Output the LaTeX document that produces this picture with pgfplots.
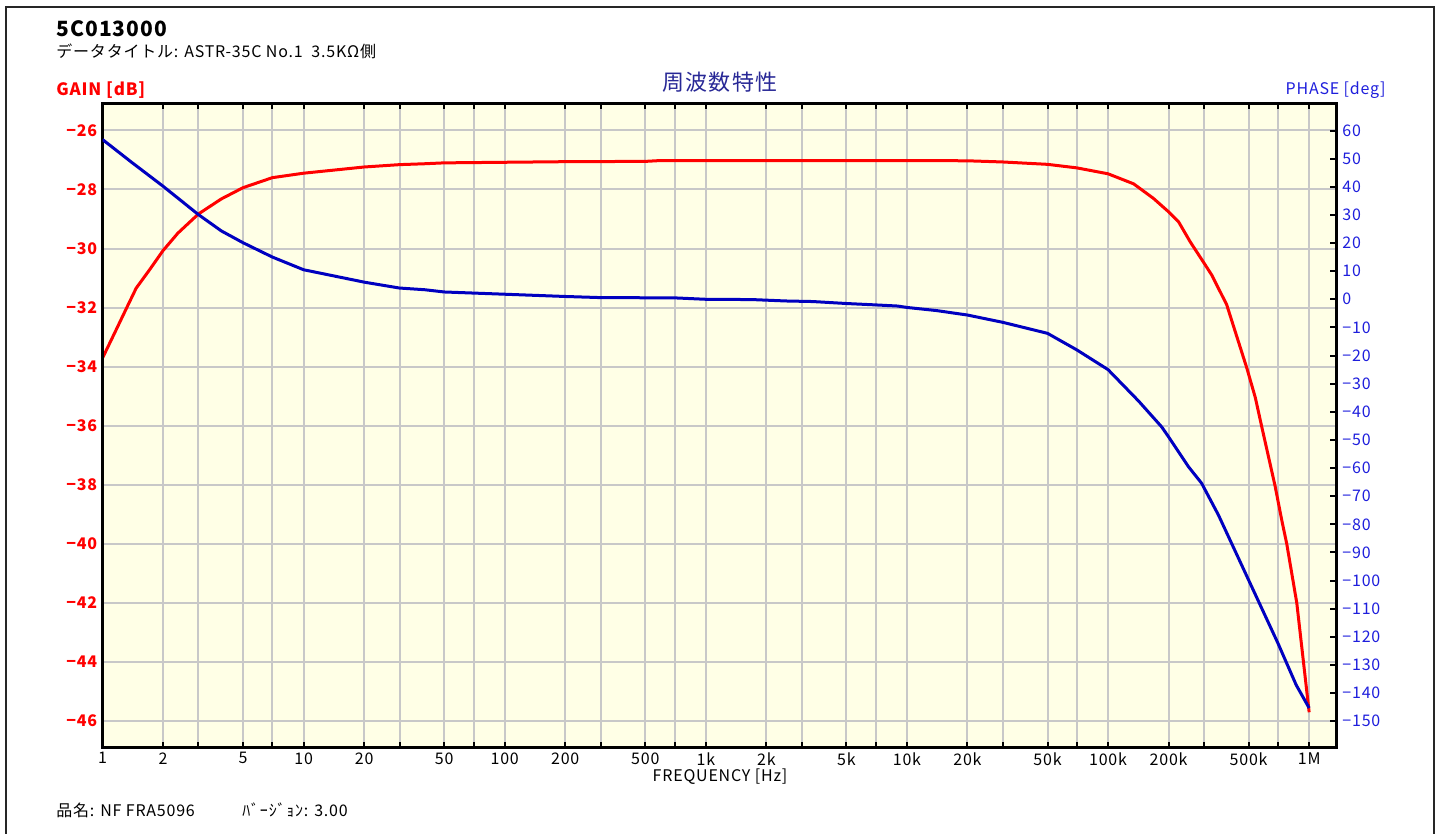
\documentclass[border=0pt]{standalone}
\usepackage{pgfplots}
\pgfplotsset{compat=1.18}
\usepackage{fontspec}
\setmainfont{Noto Sans CJK JP}[LetterSpace=5]

\definecolor{gainred}{RGB}{255,0,0}
\definecolor{phaseblue}{RGB}{0,0,192}
\definecolor{labelblue}{RGB}{30,30,220}
\definecolor{titleblue}{RGB}{40,40,150}
\definecolor{bgyellow}{RGB}{255,255,230}
\definecolor{gridgray}{RGB}{200,200,200}

\newcommand{\ticksize}{\fontsize{8}{9}\selectfont}

\begin{document}
\begin{tikzpicture}
% gain axis (left), carries the grid and the frequency axis
\begin{axis}[
    at={(51.25pt,-373.85pt)}, anchor=south west,
    scale only axis, width=616.75pt, height=322.1pt,
    xmode=log, xmin=1, xmax=1.36e6,
    ymin=-46.90, ymax=-25.09,
    axis background/.style={fill=bgyellow},
    axis line style={line width=1.5pt, black},
    xtick={1,2,5,10,20,50,100,200,500,1000,2000,5000,1e4,2e4,5e4,1e5,2e5,5e5,1e6},
    xticklabels={1,2,5,10,20,50,100,200,500,1k,2k,5k,10k,20k,50k,100k,200k,500k,1M},
    minor xtick={3,7,30,70,300,700,3000,7000,3e4,7e4,3e5,7e5},
    ytick={-46,-44,...,-26},
    yticklabels={−46,−44,−42,−40,−38,−36,−34,−32,−30,−28,−26},
    xmajorgrids, xminorgrids, ymajorgrids,
    major grid style={gridgray, line width=1pt},
    minor grid style={gridgray, line width=1pt},
    tick align=inside,
    major tick length=3pt, minor tick length=3pt,
    xtick style={black, line width=1pt},
    ytick pos=left,
    ytick style={draw=none},
    xticklabel style={font=\ticksize, inner sep=0pt, anchor=north, yshift=-2.2pt},
    yticklabel style={font=\ticksize\bfseries, text=gainred, inner sep=0pt, anchor=east, xshift=-2.5pt},
]
\addplot[gainred, line width=1.5pt, mark=none] coordinates {
(1,-33.71) (1.147,-32.87) (1.312,-32.04) (1.471,-31.34) (1.714,-30.72)
(2,-30.07) (2.37,-29.48) (3,-28.83)
(3.9,-28.32) (5,-27.94) (7,-27.60) (10,-27.45) (20,-27.24) (30,-27.16)
(40,-27.13) (50,-27.10) (100,-27.08) (200,-27.06) (500,-27.05) (600,-27.02)
(1000,-27.02) (2000,-27.02) (5000,-27.02) (10000,-27.02) (20000,-27.03)
(30000,-27.07) (50000,-27.15) (70000,-27.27) (100000,-27.47) (134000,-27.81)
(168000,-28.30) (201000,-28.77) (224000,-29.09) (256000,-29.77) (304000,-30.55)
(328000,-30.90) (389000,-31.90) (490000,-34.05) (540000,-35.05) (581000,-36.03)
(677000,-38.04) (731000,-39.2) (774000,-40.0) (868000,-42.0) (937000,-44.0)
(1000000,-45.7)
};
\end{axis}

% phase axis (right)
\begin{axis}[
    at={(51.25pt,-373.85pt)}, anchor=south west,
    scale only axis, width=616.75pt, height=322.1pt,
    xmode=log, xmin=1, xmax=1.36e6,
    ymin=-159.4, ymax=69.6,
    hide x axis,
    axis line style={line width=1.5pt, black},
    ytick={-150,-140,...,60},
    yticklabels={−150,−140,−130,−120,−110,−100,−90,−80,−70,−60,−50,−40,−30,−20,−10,0,10,20,30,40,50,60},
    ytick pos=right, yticklabel pos=right,
    tick align=inside,
    major tick length=3pt,
    ytick style={black, line width=1pt},
    yticklabel style={font=\ticksize, text=labelblue, inner sep=0pt, anchor=west, xshift=3pt},
]
\addplot[phaseblue, line width=1.5pt, mark=none] coordinates {
(1,56.8) (1.39,48.8) (2,40.2) (3,30.1) (3.9,24.3) (5,20.1) (7,15.0)
(10,10.5) (20,6.1) (30,4.0) (40,3.4) (50,2.6) (100,1.8) (200,1.0)
(300,0.6) (700,0.5) (1000,0.0) (1700,-0.1) (2500,-0.6) (3400,-0.8)
(5000,-1.5) (7000,-2.0) (9000,-2.4) (10000,-2.9) (14000,-4.0) (20000,-5.6)
(30000,-8.2) (50000,-12.1) (70000,-18.0) (100000,-25.0) (142000,-36.2)
(185000,-45.4) (200000,-48.9) (251000,-59.5) (292000,-65.4) (354000,-76.7)
(500000,-99.8) (700000,-122.3) (862000,-137.1) (1000000,-145.3)
};
\end{axis}

\begin{scope}[x=0.5pt, y=-0.5pt, every node/.style={inner sep=0pt}]
\draw[line width=1pt, black!85] (6,834) -- (6,7) -- (1434,7) -- (1434,834);
\node[anchor=west, font=\fontsize{10.5}{12}\selectfont\bfseries] at (56,29) {5C013000};
\node[anchor=west, font=\fontsize{8}{9}\selectfont] at (56,51) {データタイトル: ASTR-35C No.1\ \ 3.5KΩ側};
\node[anchor=west, font=\fontsize{8.5}{10}\selectfont\bfseries, text=gainred] at (56,90) {GAIN [dB]};
\node[font=\fontsize{11}{13}\selectfont, text=titleblue] at (720,82) {周波数特性};
\node[anchor=east, font=\fontsize{8}{9}\selectfont, text=labelblue] at (1386,90) {PHASE [deg]};
\node[font=\fontsize{8}{9}\selectfont] at (720,777) {FREQUENCY [Hz]};
\node[anchor=west, font=\fontsize{8}{9}\selectfont] at (56,810) {品名: NF FRA5096};
\node[anchor=west, font=\fontsize{8}{9}\selectfont] at (242,810) {ﾊﾞｰｼﾞｮﾝ: 3.00};
\end{scope}

\pgfresetboundingbox
\path[use as bounding box] (0pt,0pt) rectangle (722.5pt,-417pt);
\end{tikzpicture}
\end{document}
